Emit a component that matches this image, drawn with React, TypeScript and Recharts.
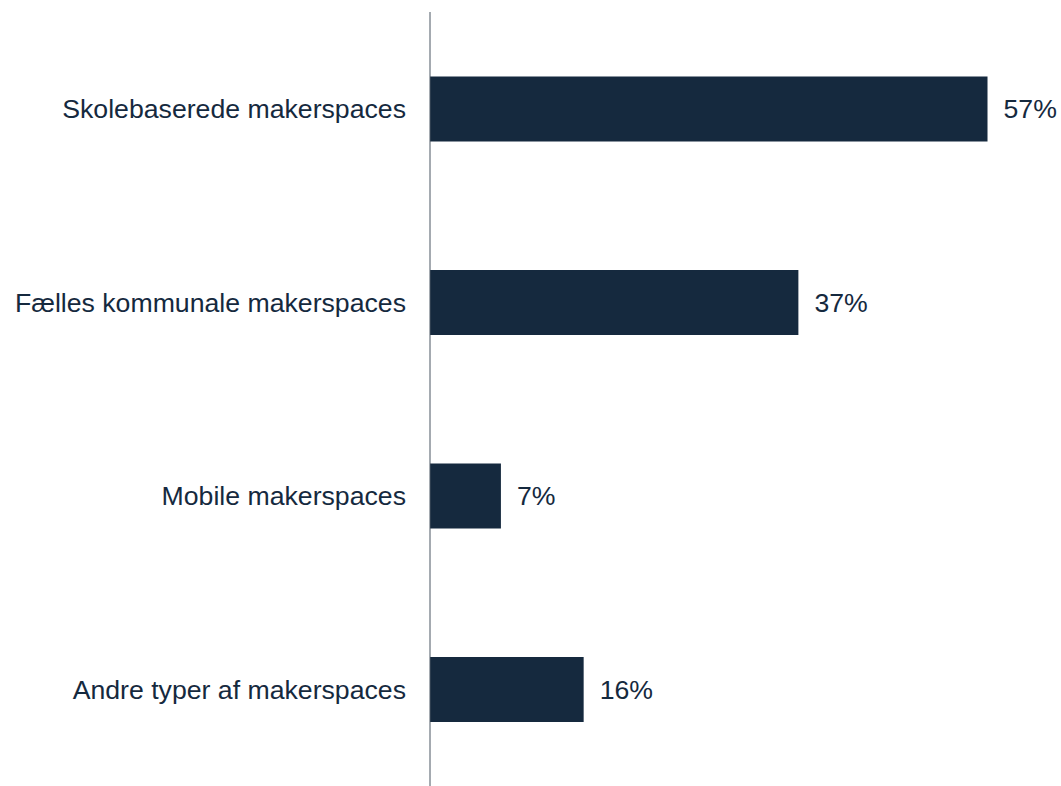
import { Bar, BarChart, LabelList, XAxis, YAxis } from 'recharts';

import type { JSX } from 'react';

const categories = [
  'Skolebaserede makerspaces',
  'Fælles kommunale makerspaces',
  'Mobile makerspaces',
  'Andre typer af makerspaces',
];
const shares = [56.6, 37.4, 7.2, 15.6];

const data = categories.map((name, i) => ({ name, value: shares[i] }));

const ink = '#15293e';
const font = '"Liberation Sans", Arial, sans-serif';

export default function App(): JSX.Element {
  return (
    <div style={{ position: 'absolute', left: 0, top: 0, background: '#fff' }}>
      <BarChart
        width={1061}
        height={786}
        data={data}
        layout="vertical"
        margin={{ top: 12, right: 40, left: 0, bottom: 0 }}
        barCategoryGap="33.3%"
      >
        <XAxis type="number" domain={[0, 60]} hide />
        <YAxis
          type="category"
          dataKey="name"
          width={430}
          axisLine={{ stroke: '#4a5663', strokeWidth: 1 }}
          tickLine={false}
          tickMargin={18}
          tick={{ fill: ink, fontSize: 26.67, fontFamily: font }}
        />
        <Bar dataKey="value" fill={ink} isAnimationActive={false}>
          <LabelList
            dataKey="value"
            position="right"
            offset={16}
            formatter={(v: number) => `${Math.round(v)}%`}
            style={{ fill: ink, fontSize: 26.67, fontFamily: font }}
          />
        </Bar>
      </BarChart>
    </div>
  );
}
